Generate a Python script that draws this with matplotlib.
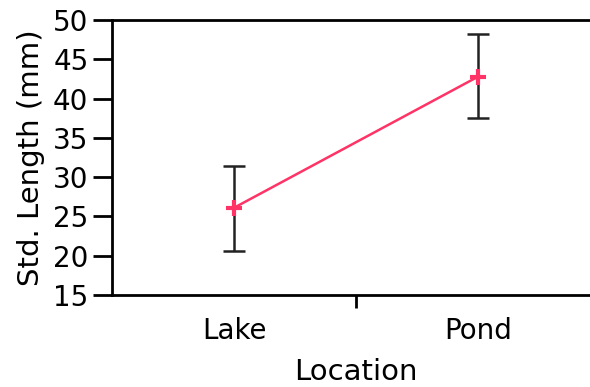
import numpy as np
import matplotlib.pyplot as plt

locations = ['Lake', 'Pond']
mean_length = [26.1, 42.8]
err_upper = [31.4, 48.2]
err_lower = [20.6, 37.5]

fig = plt.figure(figsize=(5.9, 3.87), dpi=100)
ax = fig.add_axes([0.19, 0.238, 0.827, 0.710])

x = np.arange(len(locations))
mean = np.array(mean_length)
yerr = [mean - np.array(err_lower), np.array(err_upper) - mean]

ax.errorbar(x, mean, yerr=yerr, fmt='none', ecolor='#222222',
            elinewidth=1.8, capsize=8, capthick=1.8, zorder=2)
ax.plot(x, mean, color='#ff3366', linewidth=1.8, marker='+',
        markersize=12, markeredgewidth=3, zorder=3)

ax.set_xlim(-0.5, 1.5)
ax.set_ylim(15, 50)
ax.set_yticks(np.arange(15, 51, 5))
ax.set_xticks([0.5])
ax.set_xticklabels([''])
for i, name in enumerate(locations):
    ax.text(x[i], -0.08, name, transform=ax.get_xaxis_transform(),
            ha='center', va='top', fontsize=20)

for side in ['top', 'bottom', 'left']:
    ax.spines[side].set_linewidth(2)
ax.spines['right'].set_visible(False)
ax.tick_params(axis='y', length=14, width=2, labelsize=20, pad=3)
ax.tick_params(axis='x', length=9, width=2)

ax.set_ylabel('Std. Length (mm)', fontsize=21, labelpad=6)
ax.set_xlabel('Location', fontsize=21, labelpad=33)

plt.savefig('out.png', dpi=100)
